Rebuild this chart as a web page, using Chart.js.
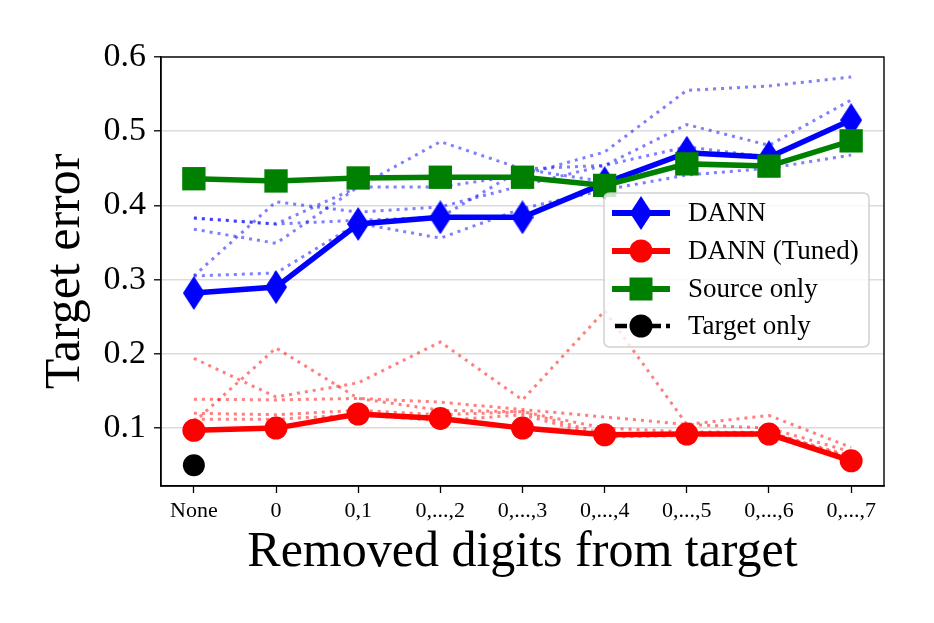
<!DOCTYPE html>
<html><head><meta charset="utf-8">
<script src="https://cdn.jsdelivr.net/npm/chart.js@4.4.0/dist/chart.umd.min.js"></script>
<style>html,body{margin:0;padding:0;background:#fff;}#wrap{width:934px;height:623px;}</style>
</head><body><div id="wrap"><canvas id="c" width="934" height="623"></canvas></div>
<script>
const categories = ['None','0','0,1','0,...,2','0,...,3','0,...,4','0,...,5','0,...,6','0,...,7'];
const yTicks = [0.1, 0.2, 0.3, 0.4, 0.5, 0.6];
const seriesLabels = ['DANN', 'DANN (Tuned)', 'Source only', 'Target only'];

const dann       = [0.282, 0.290, 0.375, 0.384, 0.384, 0.430, 0.471, 0.465, 0.515];
const dannTuned  = [0.097, 0.100, 0.119, 0.113, 0.100, 0.091, 0.092, 0.092, 0.056];
const sourceOnly = [0.436, 0.433, 0.437, 0.438, 0.438, 0.427, 0.456, 0.453, 0.487];
const targetOnly = [0.050];

const dannRun1 = [0.383, 0.375, 0.425, 0.425, 0.441, 0.472, 0.555, 0.561, 0.573];
const dannRun2 = [0.368, 0.349, 0.425, 0.486, 0.449, 0.454, 0.509, 0.481, 0.542];
const dannRun3 = [0.305, 0.405, 0.391, 0.398, 0.427, 0.454, 0.479, 0.465, 0.515];
const dannRun4 = [0.305, 0.309, 0.376, 0.356, 0.396, 0.421, 0.441, 0.450, 0.468];
const dannRun5 = [0.383, 0.375, 0.380, 0.384, 0.449, 0.432, 0.471, 0.465, 0.515];

const tunedRun1 = [0.194, 0.142, 0.161, 0.216, 0.138, 0.258, 0.105, 0.100, 0.068];
const tunedRun2 = [0.108, 0.208, 0.140, 0.124, 0.122, 0.100, 0.095, 0.094, 0.062];
const tunedRun3 = [0.139, 0.138, 0.140, 0.135, 0.125, 0.115, 0.105, 0.117, 0.074];
const tunedRun4 = [0.120, 0.118, 0.124, 0.118, 0.122, 0.092, 0.092, 0.095, 0.060];
const tunedRun5 = [0.112, 0.112, 0.118, 0.110, 0.118, 0.088, 0.090, 0.090, 0.058];

const FONT = "'Liberation Serif', 'Times New Roman', serif";
const BLUE = '#0000ff', RED = '#ff0000', GREEN = '#008000', BLACK = '#000000';

function pts(arr) { return arr.map((v, i) => ({x: i, y: v})); }

function makeDiamond(color) {
  const c = document.createElement('canvas');
  c.width = 22; c.height = 34;
  const g = c.getContext('2d');
  g.fillStyle = color;
  g.beginPath(); g.moveTo(11, 0); g.lineTo(22, 17); g.lineTo(11, 34); g.lineTo(0, 17); g.closePath(); g.fill();
  return c;
}
const diamondImg = makeDiamond(BLUE);

function runDataset(arr, color) {
  return {
    data: pts(arr), borderColor: color, borderWidth: 3, borderDash: [3, 5],
    pointRadius: 0, fill: false, order: 10, isRun: true, tension: 0
  };
}

const datasets = [
  runDataset(dannRun1, 'rgba(0,0,255,0.5)'),
  runDataset(dannRun2, 'rgba(0,0,255,0.5)'),
  runDataset(dannRun3, 'rgba(0,0,255,0.5)'),
  runDataset(dannRun4, 'rgba(0,0,255,0.5)'),
  runDataset(dannRun5, 'rgba(0,0,255,0.5)'),
  runDataset(tunedRun1, 'rgba(255,0,0,0.5)'),
  runDataset(tunedRun2, 'rgba(255,0,0,0.5)'),
  runDataset(tunedRun3, 'rgba(255,0,0,0.5)'),
  runDataset(tunedRun4, 'rgba(255,0,0,0.5)'),
  runDataset(tunedRun5, 'rgba(255,0,0,0.5)'),
  { label: seriesLabels[0], data: pts(dann), borderColor: BLUE, backgroundColor: BLUE, borderWidth: 5.5,
    pointStyle: diamondImg, pointRadius: 12, order: 3, legendMarker: 'diamond' },
  { label: seriesLabels[1], data: pts(dannTuned), borderColor: RED, backgroundColor: RED, borderWidth: 5.5,
    pointStyle: 'circle', pointRadius: 11.5, pointBorderWidth: 0, order: 2, legendMarker: 'circle' },
  { label: seriesLabels[2], data: pts(sourceOnly), borderColor: GREEN, backgroundColor: GREEN, borderWidth: 5.5,
    pointStyle: 'rect', pointRadius: 16.5, pointBorderWidth: 0, order: 1, legendMarker: 'square' },
  { label: seriesLabels[3], data: pts(targetOnly), borderColor: BLACK, backgroundColor: BLACK, borderWidth: 4,
    borderDash: [12, 5], pointStyle: 'circle', pointRadius: 11, pointBorderWidth: 0, order: 0, legendMarker: 'circle' }
];

const framePlugin = {
  id: 'frameLegend',
  afterDatasetsDraw(chart) {
    const {ctx, chartArea: a} = chart;
    ctx.save();
    ctx.strokeStyle = '#000'; ctx.lineWidth = 1.4;
    ctx.strokeRect(a.left, a.top, a.right - a.left, a.bottom - a.top);
    // legend box
    const bx = 604, by = 193, bw = 265, bh = 154, r = 6;
    ctx.beginPath();
    ctx.moveTo(bx + r, by); ctx.lineTo(bx + bw - r, by); ctx.quadraticCurveTo(bx + bw, by, bx + bw, by + r);
    ctx.lineTo(bx + bw, by + bh - r); ctx.quadraticCurveTo(bx + bw, by + bh, bx + bw - r, by + bh);
    ctx.lineTo(bx + r, by + bh); ctx.quadraticCurveTo(bx, by + bh, bx, by + bh - r);
    ctx.lineTo(bx, by + r); ctx.quadraticCurveTo(bx, by, bx + r, by);
    ctx.closePath();
    ctx.fillStyle = 'rgba(255,255,255,0.8)'; ctx.fill();
    ctx.strokeStyle = 'rgba(204,204,204,0.9)'; ctx.lineWidth = 1.5; ctx.stroke();
    const rows = [213, 251, 289, 326];
    const mains = chart.data.datasets.filter(d => !d.isRun);
    mains.forEach((d, i) => {
      const y = rows[i];
      ctx.strokeStyle = d.borderColor; ctx.fillStyle = d.backgroundColor;
      ctx.lineWidth = d.borderWidth + 0.5;
      ctx.setLineDash(d.borderDash ? d.borderDash : []);
      ctx.beginPath();
      ctx.moveTo(d.borderDash ? 615 : 612, y); ctx.lineTo(670, y); ctx.stroke();
      ctx.setLineDash([]);
      const mx = 641;
      ctx.beginPath();
      if (d.legendMarker === 'diamond') {
        ctx.moveTo(mx, y - 17); ctx.lineTo(mx + 11, y); ctx.lineTo(mx, y + 17); ctx.lineTo(mx - 11, y); ctx.closePath();
      } else if (d.legendMarker === 'square') {
        ctx.rect(mx - 11.5, y - 11.5, 23, 23);
      } else {
        ctx.arc(mx, y, 11.5, 0, Math.PI * 2);
      }
      ctx.fill();
      ctx.fillStyle = '#000';
      ctx.font = "27px " + FONT;
      ctx.textBaseline = 'middle'; ctx.textAlign = 'left';
      ctx.fillText(d.label, 688, y + 1);
    });
    ctx.restore();
  }
};

new Chart(document.getElementById('c'), {
  type: 'line',
  data: { datasets },
  options: {
    responsive: false, animation: false, devicePixelRatio: 1,
    layout: { padding: { top: 57, right: 50, left: 0, bottom: 0 } },
    plugins: { legend: { display: false }, tooltip: { enabled: false } },
    elements: { line: { tension: 0 } },
    scales: {
      x: {
        type: 'linear', min: -0.4, max: 8.4,
        afterBuildTicks: s => { s.ticks = categories.map((c, i) => ({value: i})); },
        afterFit: s => { s.height = 137; },
        ticks: { callback: v => categories[v], color: '#000', font: { family: FONT, size: 22 }, padding: 5, maxRotation: 0, autoSkip: false },
        grid: { drawOnChartArea: false, drawTicks: true, tickLength: 7, tickColor: '#000', tickWidth: 1.3 },
        border: { display: true, color: '#000', width: 1.4 },
        title: { display: true, text: 'Removed digits from target', color: '#000', font: { family: FONT, size: 50 }, padding: { top: 0, bottom: 40 } }
      },
      y: {
        type: 'linear', min: 0.022, max: 0.6,
        afterBuildTicks: s => { s.ticks = yTicks.map(v => ({value: v})); },
        afterFit: s => { s.width = 161; },
        ticks: { callback: v => v.toFixed(1), color: '#000', font: { family: FONT, size: 34 }, padding: 8 },
        grid: { color: '#dcdcdc', lineWidth: 1.6, drawTicks: true, tickLength: 7, tickColor: '#000', tickWidth: 1.3 },
        border: { display: true, color: '#000', width: 1.4 },
        title: { display: true, text: 'Target error', color: '#000', font: { family: FONT, size: 50 }, padding: { top: 36, bottom: 0 } }
      }
    }
  },
  plugins: [framePlugin]
});
</script></body></html>
